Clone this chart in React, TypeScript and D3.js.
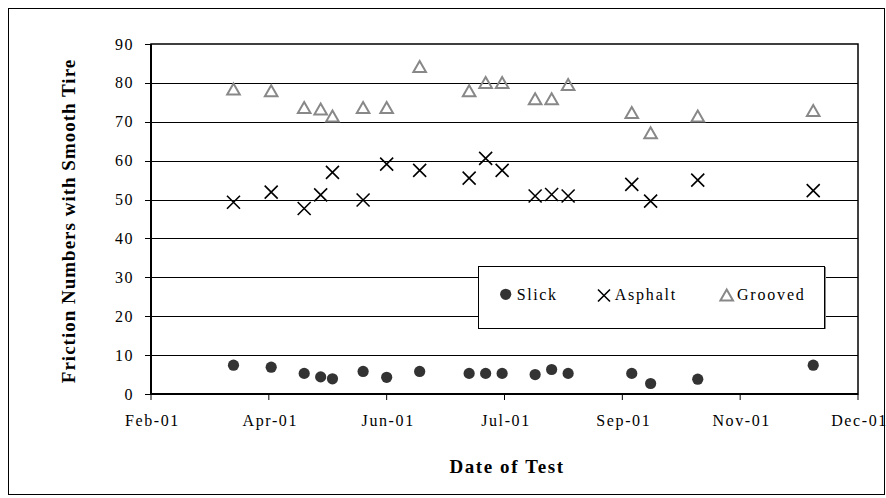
import React from "react";
import * as d3 from "d3";

const testDates = [
  "2001-04-04", "2001-04-20", "2001-05-04", "2001-05-11", "2001-05-16", "2001-05-29",
  "2001-06-08", "2001-06-22", "2001-07-13", "2001-07-20", "2001-07-27", "2001-08-10",
  "2001-08-17", "2001-08-24", "2001-09-20", "2001-09-28", "2001-10-18", "2001-12-06",
];
const slick = [7.4, 6.9, 5.3, 4.4, 3.9, 5.8, 4.3, 5.8, 5.3, 5.3, 5.3, 5.0, 6.3, 5.3, 5.3, 2.7, 3.8, 7.4];
const asphalt = [49.3, 51.9, 47.7, 51.2, 57.0, 49.9, 59.1, 57.5, 55.5, 60.6, 57.5, 50.9, 51.3, 50.9, 53.9, 49.6, 55.0, 52.3];
const grooved = [78.4, 78.0, 73.7, 73.3, 71.5, 73.7, 73.7, 84.2, 78.0, 80.1, 80.1, 75.9, 75.9, 79.6, 72.4, 67.2, 71.5, 72.9];
const yTicks = [0, 10, 20, 30, 40, 50, 60, 70, 80, 90];
const xStart = "2001-02-28";
const xEnd = "2001-12-25";
const xStepDays = 50;
const seriesNames = ["Slick", "Asphalt", "Grooved"];

const parse = d3.timeParse("%Y-%m-%d");
const fmt = d3.timeFormat("%b-%y");

const L = 151, R = 858, T = 44, B = 394;

const Cross = ({ x, y, s = 6.5 }: { x: number; y: number; s?: number }) => (
  <path d={`M${x - s},${y - s}L${x + s},${y + s}M${x - s},${y + s}L${x + s},${y - s}`} stroke="#000" strokeWidth={1.6} fill="none" />
);
const Tri = ({ x, y }: { x: number; y: number }) => (
  <path d={`M${x},${y - 5.5}L${x + 6.3},${y + 5.5}L${x - 6.3},${y + 5.5}Z`} stroke="#888" strokeWidth={2} fill="none" strokeLinejoin="miter" />
);

export default function App() {
  const start = parse(xStart)!;
  const end = parse(xEnd)!;
  const x = d3.scaleTime().domain([start, end]).range([L, R]);
  const y = d3.scaleLinear().domain([0, 90]).range([B, T]);
  const nTicks = Math.round(d3.timeDay.count(start, end) / xStepDays);
  const xTicks = d3.range(nTicks + 1).map((i) => d3.timeDay.offset(start, xStepDays * i));
  const dates = testDates.map((d) => parse(d)!);
  const font = "'Liberation Serif', 'Times New Roman', serif";

  return (
    <svg width={886} height={498} style={{ position: "absolute", left: 0, top: 0, background: "#fff" }} fontFamily={font}>
      <rect x={8.5} y={8.5} width={876} height={486} fill="#fff" stroke="#000" strokeWidth={1} />
      {yTicks.map((t) => (
        <g key={t}>
          {t > 0 && t < 90 && <line x1={L} x2={R} y1={Math.round(y(t)) + 0.5} y2={Math.round(y(t)) + 0.5} stroke="#000" strokeWidth={1} />}
          <line x1={L - 6} x2={L} y1={Math.round(y(t)) + 0.5} y2={Math.round(y(t)) + 0.5} stroke="#000" strokeWidth={1} />
          <text x={134} y={y(t) + 5.5} textAnchor="end" fontSize={16} letterSpacing={1.5}>{t}</text>
        </g>
      ))}
      <rect x={L} y={T} width={R - L} height={B - T} fill="none" stroke="#000" strokeWidth={1.5} />
      <line x1={L} x2={L} y1={T} y2={B} stroke="#000" strokeWidth={2} />
      <line x1={L} x2={R} y1={B} y2={B} stroke="#000" strokeWidth={2} />
      {xTicks.map((t, i) => (
        <g key={i}>
          <line x1={x(t)} x2={x(t)} y1={B} y2={B + 6} stroke="#000" strokeWidth={1} />
          <text x={x(t) + 1.5} y={426} textAnchor="middle" fontSize={16} letterSpacing={1.6}>{fmt(t)}</text>
        </g>
      ))}
      {dates.map((d, i) => (
        <circle key={"s" + i} cx={x(d)} cy={y(slick[i])} r={5.6} fill="#333" />
      ))}
      {dates.map((d, i) => (
        <Cross key={"a" + i} x={x(d)} y={y(asphalt[i])} />
      ))}
      {dates.map((d, i) => (
        <Tri key={"g" + i} x={x(d)} y={y(grooved[i])} />
      ))}
      <rect x={478.5} y={266.5} width={346} height={62} fill="#fff" stroke="#000" strokeWidth={1} />
      <line x1={825.5} x2={825.5} y1={267} y2={329} stroke="#888" strokeWidth={1} />
      <circle cx={505.7} cy={294.3} r={5.6} fill="#333" />
      <text x={516.7} y={299.5} fontSize={16} letterSpacing={1.6}>{seriesNames[0]}</text>
      <Cross x={604} y={295.5} s={6} />
      <text x={614.7} y={299.5} fontSize={16} letterSpacing={1.8}>{seriesNames[1]}</text>
      <Tri x={726.7} y={295} />
      <text x={737} y={299.5} fontSize={16} letterSpacing={1.8}>{seriesNames[2]}</text>
      <text x={507} y={473} textAnchor="middle" fontSize={19} fontWeight="bold" letterSpacing={1.6}>Date of Test</text>
      <text transform={`translate(75,221) rotate(-90)`} textAnchor="middle" fontSize={19} fontWeight="bold" letterSpacing={1}>Friction Numbers with Smooth Tire</text>
    </svg>
  );
}
